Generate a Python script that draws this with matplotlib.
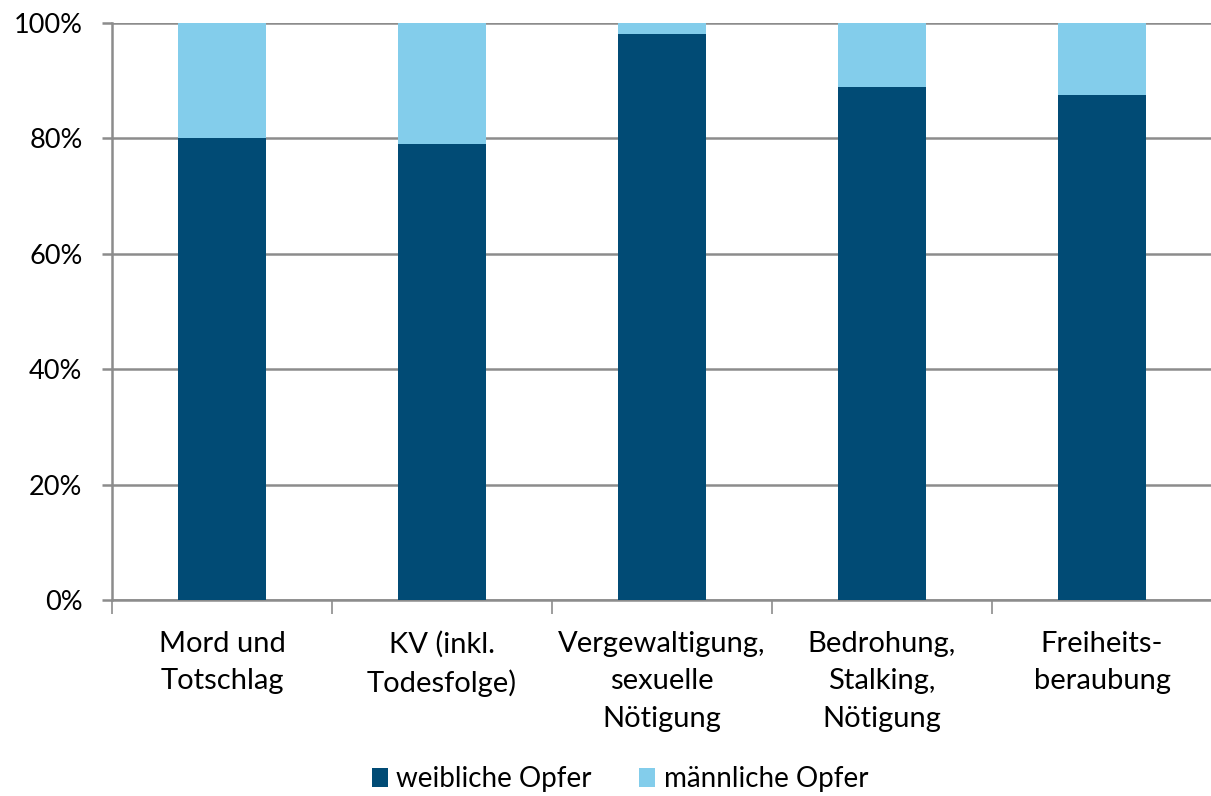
import matplotlib.pyplot as plt
import numpy as np
from matplotlib.ticker import PercentFormatter

plt.rcParams['font.family'] = ['Lato', 'DejaVu Sans']

categories = ['Mord und\nTotschlag', 'KV (inkl.\nTodesfolge)', 'Vergewaltigung,\nsexuelle\nNötigung',
              'Bedrohung,\nStalking,\nNötigung', 'Freiheits-\nberaubung']
weiblich = [80.0, 79.1, 98.1, 88.9, 87.5]
maennlich = [100 - v for v in weiblich]

dark = '#014b75'
light = '#83cdeb'
grid = '#8c8c8c'

fig = plt.figure(figsize=(12.11, 7.96), dpi=100)
ax = fig.add_axes([112 / 1211, 1 - 600 / 796, 1100 / 1211, 577 / 796])

x = np.arange(len(categories))
ax.bar(x, weiblich, width=0.4, color=dark, label='weibliche Opfer', zorder=3)
ax.bar(x, maennlich, width=0.4, bottom=weiblich, color=light, label='männliche Opfer', zorder=3)

ax.set_xlim(-0.5, len(categories) - 0.5)
ax.set_ylim(0, 100)
ax.set_yticks(np.arange(0, 101, 20))
ax.yaxis.set_major_formatter(PercentFormatter(decimals=0))
ax.yaxis.grid(True, color=grid, linewidth=1.8, zorder=0)

ax.set_xticks(x)
ax.set_xticklabels(categories, fontsize=21, linespacing=1.55)
ax.set_xticks(np.arange(-0.5, len(categories), 1), minor=True)
ax.tick_params(axis='x', which='major', length=0, pad=22)
ax.tick_params(axis='x', which='minor', length=10, width=1.2, color=grid)
ax.tick_params(axis='y', labelsize=19.5, length=7.2, width=1.8, color=grid, pad=14)

for s in ['top', 'right']:
    ax.spines[s].set_visible(False)
for s in ['left', 'bottom']:
    ax.spines[s].set_color(grid)
    ax.spines[s].set_linewidth(1.8)

fig.legend(loc='center', bbox_to_anchor=(620 / 1211, 17 / 796), ncol=2, frameon=False,
           fontsize=20, handlelength=0.58, handleheight=0.65, handletextpad=0.3,
           columnspacing=1.7, borderpad=0)

fig.savefig('out.png', dpi=100)
